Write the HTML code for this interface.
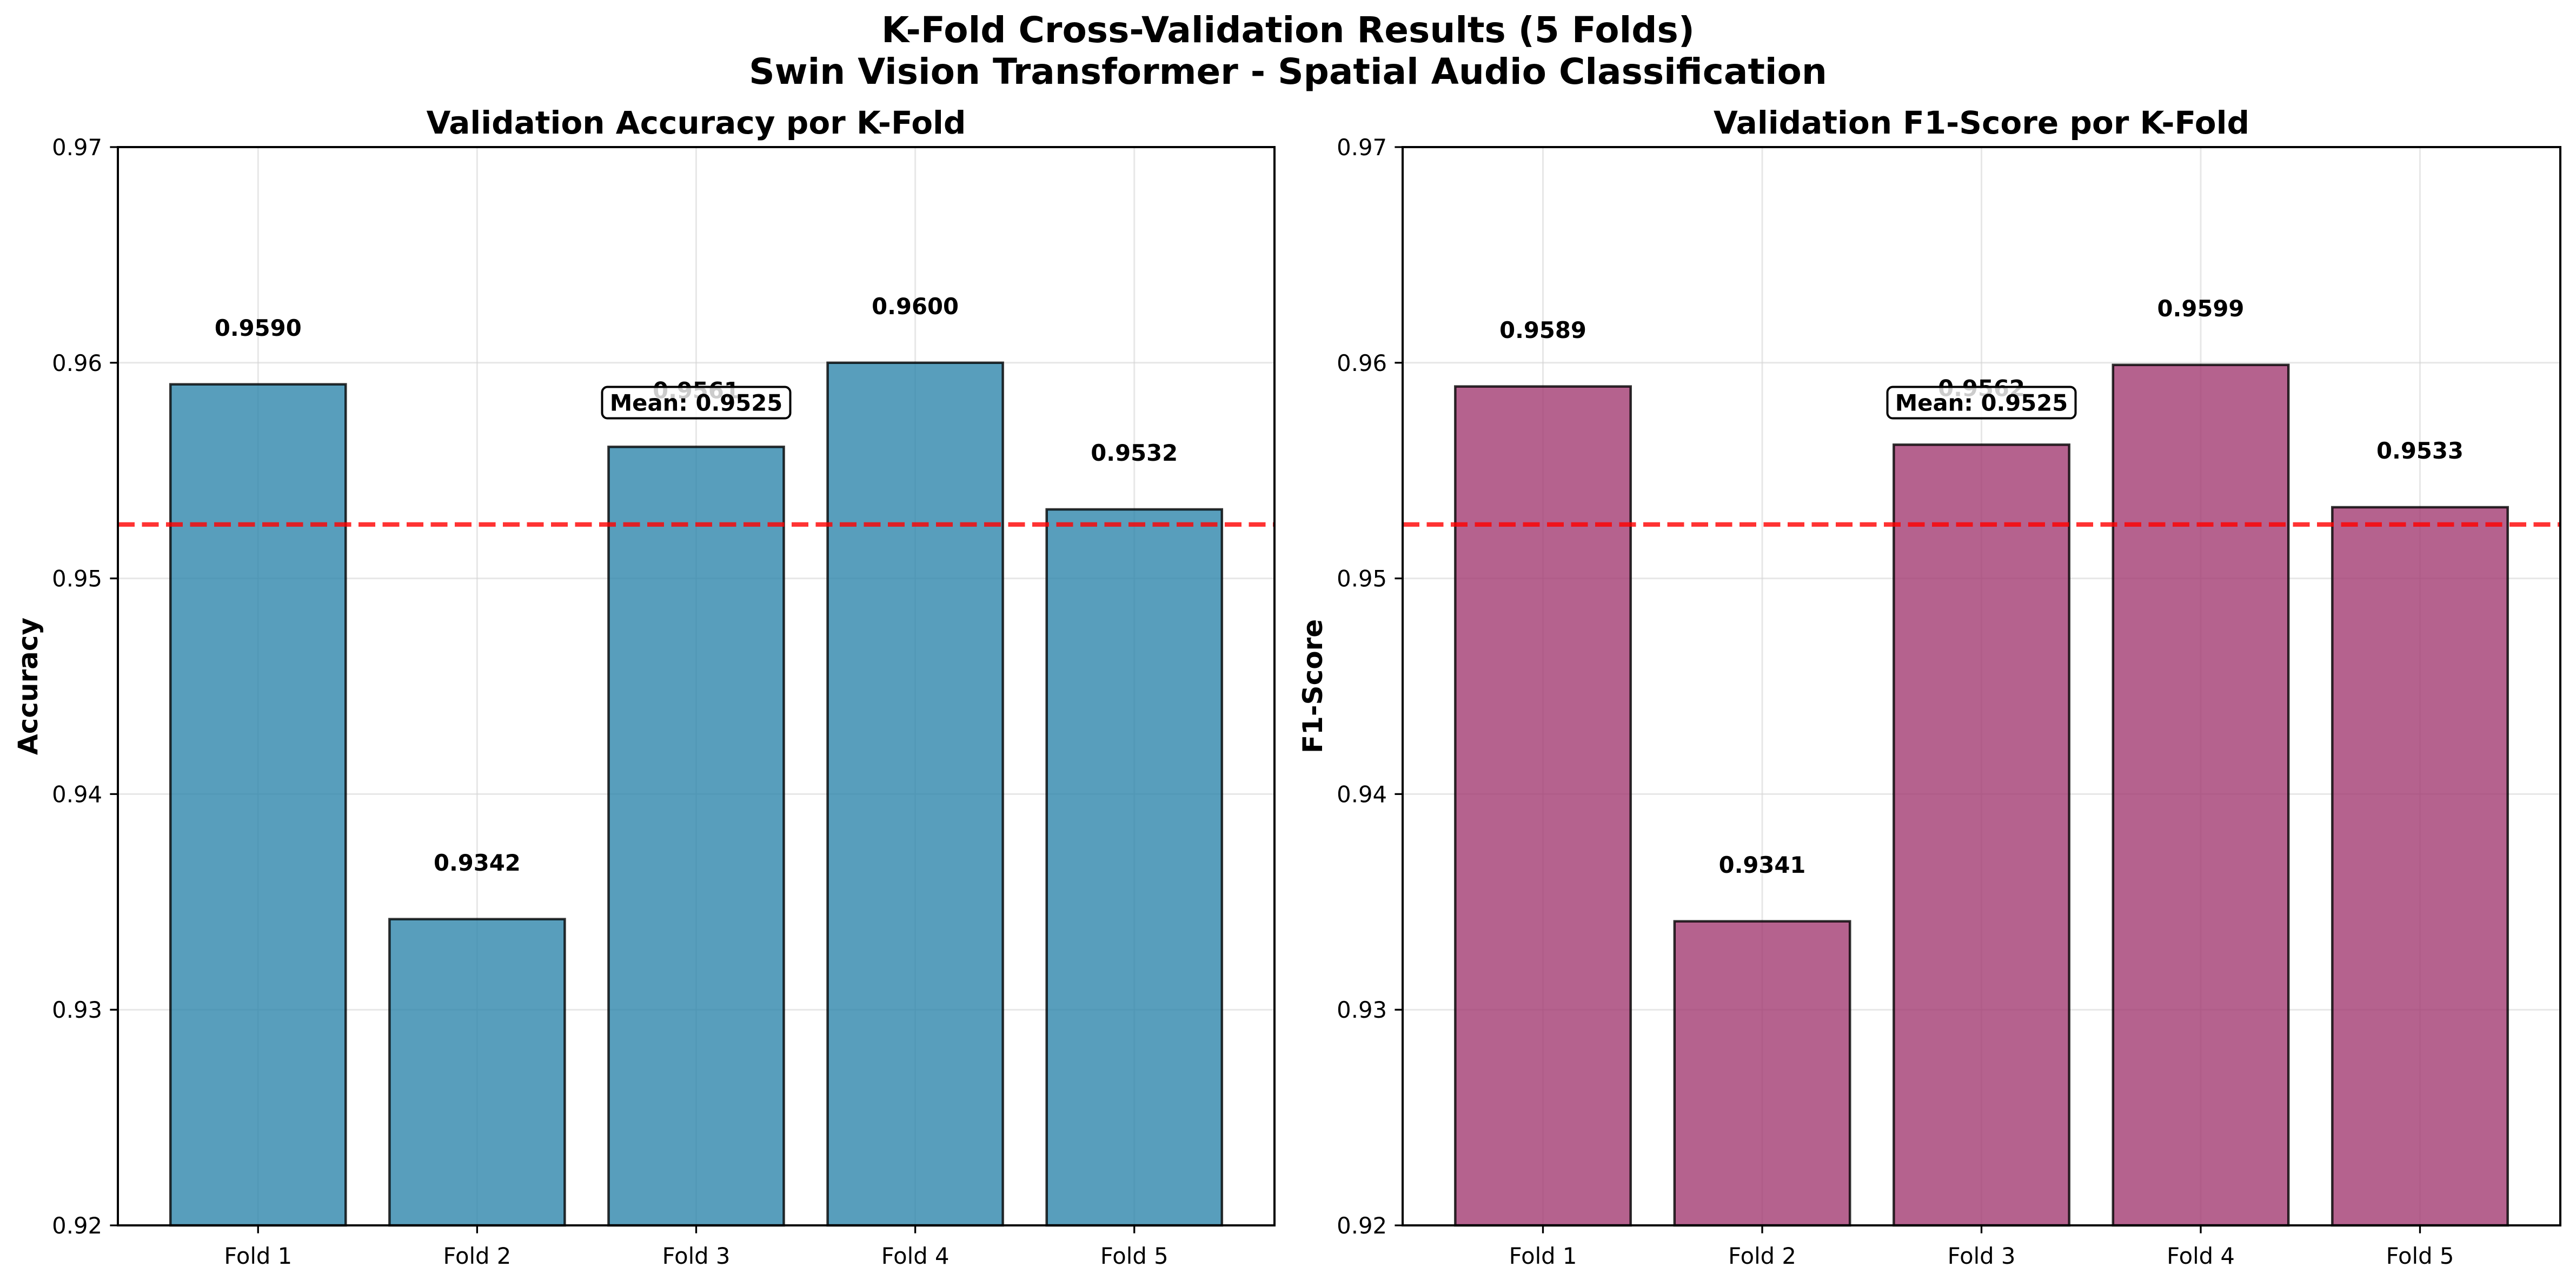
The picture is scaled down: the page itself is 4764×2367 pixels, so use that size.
<!DOCTYPE html>
<html><head><meta charset="utf-8">
<style>
html,body{margin:0;padding:0;background:#fff;}
svg{display:block;font-family:"DejaVu Sans","Liberation Sans",sans-serif;}
</style></head>
<body>
<svg id="chart" width="4764" height="2367" viewBox="0 0 4764 2367" xmlns="http://www.w3.org/2000/svg">
<rect width="4764" height="2367" fill="#fff"/>
<text x="2382" y="78" font-size="66" font-weight="bold" text-anchor="middle">K-Fold Cross-Validation Results (5 Folds)</text>
<text x="2382" y="155" font-size="66" font-weight="bold" text-anchor="middle">Swin Vision Transformer - Spatial Audio Classification</text>
<g id="panels"></g>
</svg>
<script>
const categories = ["Fold 1","Fold 2","Fold 3","Fold 4","Fold 5"];
const accuracyValues = [0.9590,0.9342,0.9561,0.9600,0.9532];
const f1Values = [0.9589,0.9341,0.9562,0.9599,0.9533];
const accuracyMean = 0.9525;
const f1Mean = 0.9525;
const yTicks = [0.92,0.93,0.94,0.95,0.96,0.97];
const yTickLabels = ["0.92","0.93","0.94","0.95","0.96","0.97"];

const NS = "http://www.w3.org/2000/svg";
const root = document.getElementById('panels');
function mk(tag, attrs, parent, text){
  const e = document.createElementNS(NS, tag);
  for (const k in attrs) e.setAttribute(k, attrs[k]);
  if (text !== undefined) e.textContent = text;
  parent.appendChild(e);
  return e;
}
function panel(left, right, top, bottom, values, mean, color, title, ylabel, prefix){
  const yMin = 0.92, yMax = 0.97, xMin = -0.64, xMax = 4.64;
  const X = v => left + (v - xMin) / (xMax - xMin) * (right - left);
  const Y = v => bottom - (v - yMin) / (yMax - yMin) * (bottom - top);
  const g = mk('g', {}, root);
  
  
  yTicks.forEach((t) => {
    const l = mk('line', {x1:left, x2:right, y1:Y(t), y2:Y(t), stroke:'#d3d3d3', 'stroke-opacity':0.55, 'stroke-width':3}, g);
    
    
  });
  categories.forEach((c, i) => {
    const l = mk('line', {x1:X(i), x2:X(i), y1:top, y2:bottom, stroke:'#d3d3d3', 'stroke-opacity':0.55, 'stroke-width':3}, g);
    
    
  });
  values.forEach((v, i) => {
    const x0 = X(i - 0.4), x1 = X(i + 0.4);
    const r = mk('rect', {x:x0, y:Y(v), width:x1 - x0, height:bottom - Y(v), fill:color, 'fill-opacity':0.8, stroke:'#000', 'stroke-opacity':0.8, 'stroke-width':4.5}, g);
    
    
    const t = mk('text', {x:X(i), y:Y(v + 0.002) - 10, 'font-size':41.7, 'font-weight':'bold', 'text-anchor':'middle'}, g, v.toFixed(4));
    
    
  });
  const ml = mk('line', {x1:left, x2:right, y1:Y(mean), y2:Y(mean), stroke:'#ff0000', 'stroke-opacity':0.8, 'stroke-width':8.3, 'stroke-dasharray':'31 13.5'}, g);
  
  
  const cy = Y(mean + 0.0055) - 6;
  const bx = mk('rect', {x:X(2) - 174, y:cy - 29, width:348, height:58, rx:10, fill:'#fff', 'fill-opacity':0.8, stroke:'#000', 'stroke-width':4}, g);
  
  
  const mt = mk('text', {x:X(2), y:cy + 15, 'font-size':41.7, 'font-weight':'bold', 'text-anchor':'middle'}, g, 'Mean: ' + mean.toFixed(4));
  
  
  const fr = mk('rect', {x:left, y:top, width:right - left, height:bottom - top, fill:'none', stroke:'#000', 'stroke-width':4}, g);
  
  
  yTicks.forEach((t, i) => {
    const tk = mk('line', {x1:left - 14.6, x2:left, y1:Y(t), y2:Y(t), stroke:'#000', 'stroke-width':3.3}, g);
    
    
    const tl = mk('text', {x:left - 29, y:Y(t) + 15, 'font-size':41.7, 'text-anchor':'end'}, g, yTickLabels[i]);
    
    
  });
  categories.forEach((c, i) => {
    const tk = mk('line', {x1:X(i), x2:X(i), y1:bottom, y2:bottom + 14.6, stroke:'#000', 'stroke-width':3.3}, g);
    
    
    const tl = mk('text', {x:X(i), y:bottom + 71, 'font-size':41.7, 'text-anchor':'middle'}, g, c);
    
    
  });
  const tt = mk('text', {x:(left + right) / 2, y:top - 25, 'font-size':58, 'font-weight':'bold', 'text-anchor':'middle'}, g, title);
  
  
  const yl = mk('text', {x:left - 166, y:(top + bottom) / 2, 'font-size':50, 'font-weight':'bold', 'text-anchor':'middle', transform:'rotate(-90 ' + (left - 166) + ' ' + ((top + bottom) / 2) + ')', 'dominant-baseline':'central'}, g, ylabel);
  
  
}
panel(218, 2357, 272, 2266, accuracyValues, accuracyMean, '#2E86AB', 'Validation Accuracy por K-Fold', 'Accuracy', 'accuracy');
panel(2594, 4735, 272, 2266, f1Values, f1Mean, '#A23B72', 'Validation F1-Score por K-Fold', 'F1-Score', 'f1');
</script>
</body></html>
